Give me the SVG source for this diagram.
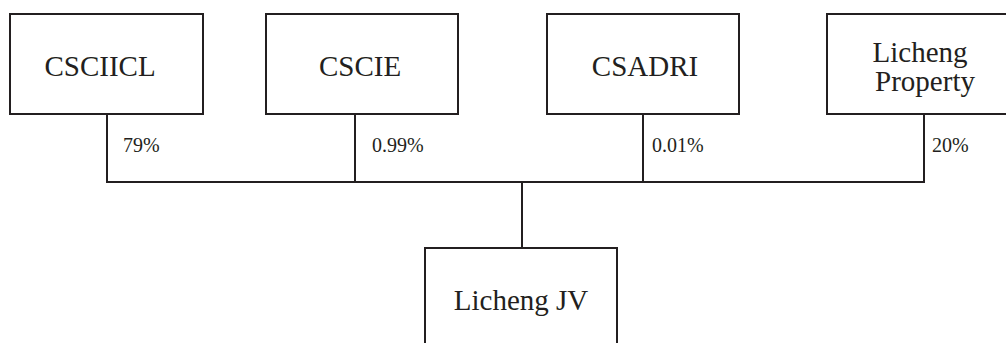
<svg xmlns="http://www.w3.org/2000/svg" width="1006" height="343" viewBox="0 0 1006 343">
<style>
.box{fill:#fff;stroke:#231f20;stroke-width:2}
.lbl{font-family:"Liberation Serif","Times New Roman",serif;font-size:29px;fill:#231f20;text-anchor:middle}
.pct{font-family:"Liberation Serif","Times New Roman",serif;font-size:20px;fill:#231f20}
.conn{fill:none;stroke:#231f20;stroke-width:2}
</style>
<rect width="1006" height="343" fill="#fff"/>
<g id="connectors">
<polyline class="conn" points="107,114 107,182 924,182 924,114"/>
<line class="conn" x1="355" y1="114" x2="355" y2="182"/>
<line class="conn" x1="643" y1="114" x2="643" y2="182"/>
<line class="conn" x1="522" y1="182" x2="522" y2="248"/>
<text class="pct" x="123" y="152">79%</text>
<text class="pct" x="372" y="152">0.99%</text>
<text class="pct" x="652" y="152">0.01%</text>
<text class="pct" x="932" y="152">20%</text>
</g>
<g id="csciicl">
<rect class="box" x="10" y="14" width="193" height="100"/>
<text class="lbl" x="100" y="76">CSCIICL</text>
</g>
<g id="cscie">
<rect class="box" x="266" y="14" width="192" height="100"/>
<text class="lbl" x="360" y="76">CSCIE</text>
</g>
<g id="csadri">
<rect class="box" x="547" y="14" width="192" height="100"/>
<text class="lbl" x="645" y="76">CSADRI</text>
</g>
<g id="licheng-property">
<rect class="box" x="827" y="14" width="186" height="100"/>
<text class="lbl" x="920" y="62">Licheng</text>
<text class="lbl" x="925" y="91">Property</text>
</g>
<g id="licheng-jv">
<rect class="box" x="425" y="248" width="192" height="110"/>
<text class="lbl" x="521" y="310">Licheng JV</text>
</g>
</svg>
